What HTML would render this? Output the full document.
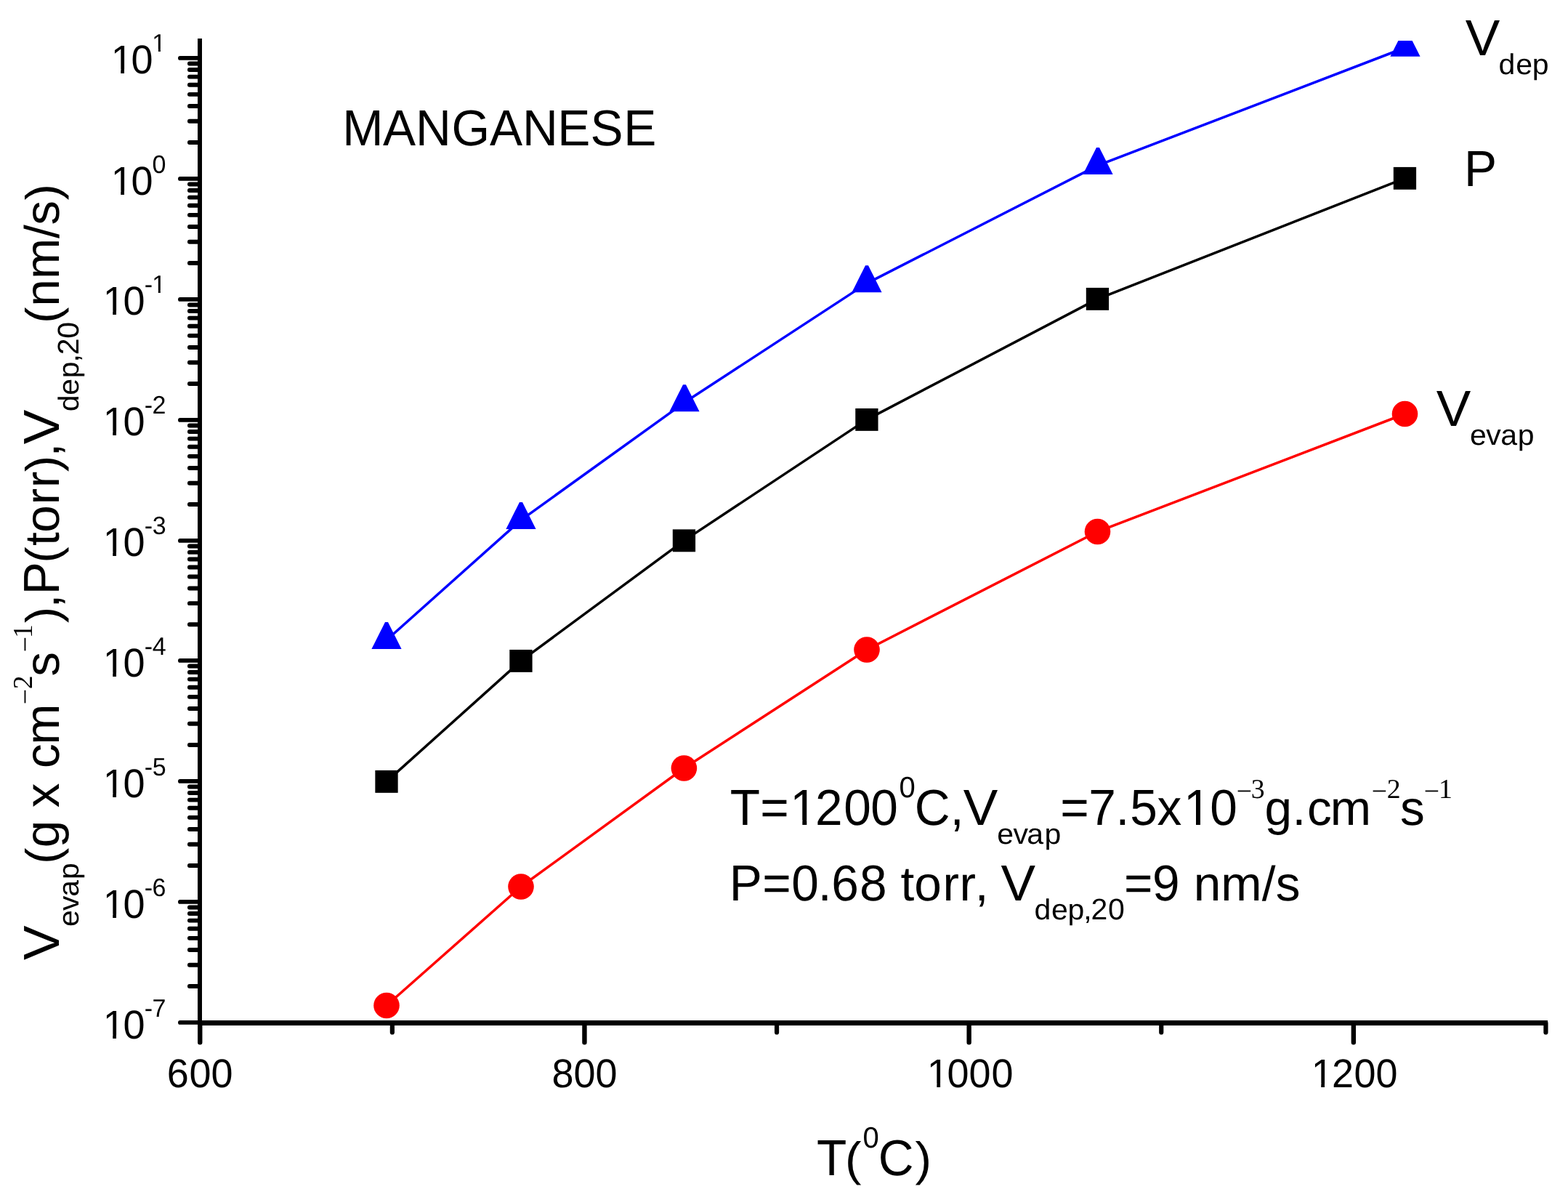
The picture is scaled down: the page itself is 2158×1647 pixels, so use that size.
<!DOCTYPE html>
<html><head><meta charset="utf-8"><title>Manganese: evaporation rate, vapor pressure and deposition rate vs temperature</title>
<style>html,body{margin:0;padding:0;background:#fff;overflow:hidden;}svg{display:block;}text{font-family:"Liberation Sans",Arial,sans-serif;fill:#000;text-rendering:geometricPrecision;}.sf{font-family:"Liberation Serif","Times New Roman",serif;}</style>
</head><body>
<svg xmlns="http://www.w3.org/2000/svg" width="2158" height="1647" viewBox="0 0 2158 1647">
<rect width="2158" height="1647" fill="#fff"/>
<path d="M275.00 53.00V1410.95" stroke="#000" stroke-width="6.0" fill="none"/>
<path d="M272.00 1407.50H2130.00" stroke="#000" stroke-width="6.9" fill="none"/>
<path d="M247.9 79.90H275.00 M247.9 245.90H275.00 M247.9 411.90H275.00 M247.9 577.90H275.00 M247.9 743.90H275.00 M247.9 908.90H275.00 M247.9 1074.90H275.00 M247.9 1240.90H275.00 M247.9 1406.90H275.00" stroke="#000" stroke-width="5.8" stroke-linecap="round" fill="none"/>
<path d="M260.9 195.93H275.00 M260.9 166.70H275.00 M260.9 145.96H275.00 M260.9 129.87H275.00 M260.9 116.73H275.00 M260.9 105.61H275.00 M260.9 95.99H275.00 M260.9 87.50H275.00 M260.9 361.93H275.00 M260.9 332.70H275.00 M260.9 311.96H275.00 M260.9 295.87H275.00 M260.9 282.73H275.00 M260.9 271.61H275.00 M260.9 261.99H275.00 M260.9 253.50H275.00 M260.9 527.93H275.00 M260.9 498.70H275.00 M260.9 477.96H275.00 M260.9 461.87H275.00 M260.9 448.73H275.00 M260.9 437.61H275.00 M260.9 427.99H275.00 M260.9 419.50H275.00 M260.9 693.93H275.00 M260.9 664.70H275.00 M260.9 643.96H275.00 M260.9 627.87H275.00 M260.9 614.73H275.00 M260.9 603.61H275.00 M260.9 593.99H275.00 M260.9 585.50H275.00 M260.9 859.23H275.00 M260.9 830.17H275.00 M260.9 809.56H275.00 M260.9 793.57H275.00 M260.9 780.51H275.00 M260.9 769.46H275.00 M260.9 759.89H275.00 M260.9 751.45H275.00 M260.9 1024.93H275.00 M260.9 995.70H275.00 M260.9 974.96H275.00 M260.9 958.87H275.00 M260.9 945.73H275.00 M260.9 934.61H275.00 M260.9 924.99H275.00 M260.9 916.50H275.00 M260.9 1190.93H275.00 M260.9 1161.70H275.00 M260.9 1140.96H275.00 M260.9 1124.87H275.00 M260.9 1111.73H275.00 M260.9 1100.61H275.00 M260.9 1090.99H275.00 M260.9 1082.50H275.00 M260.9 1356.93H275.00 M260.9 1327.70H275.00 M260.9 1306.96H275.00 M260.9 1290.87H275.00 M260.9 1277.73H275.00 M260.9 1266.61H275.00 M260.9 1256.99H275.00 M260.9 1248.50H275.00" stroke="#000" stroke-width="5.9" stroke-linecap="round" fill="none"/>
<path d="M275.25 1407.50V1434.3 M804.45 1407.50V1434.3 M1333.65 1407.50V1434.3 M1862.85 1407.50V1434.3" stroke="#000" stroke-width="6.4" stroke-linecap="round" fill="none"/>
<path d="M539.85 1407.50V1420.5 M1069.05 1407.50V1420.5 M1598.25 1407.50V1420.5 M2127.45 1407.50V1420.5" stroke="#000" stroke-width="6.2" stroke-linecap="round" fill="none"/>
<text font-size="54.0" transform="matrix(1.0 0 0 1.025 0 0)" x="229.75 260.43 290.48" y="1459.61">600</text>
<text font-size="54.0" transform="matrix(1.0 0 0 1.025 0 0)" x="759.48 789.48 819.48" y="1459.61">800</text>
<g clip-path="url(#c1f0)"><text font-size="54.0" transform="matrix(1.0 0 0 1.025 0 0)" x="1275.75 1303.38 1333.38 1364.38" y="1459.61">1000</text></g>
<g clip-path="url(#c1f1)"><text font-size="54.0" transform="matrix(1.0 0 0 1.025 0 0)" x="1804.65 1832.98 1863.38 1893.48" y="1459.61">1200</text></g>
<g clip-path="url(#c1f2)"><text font-size="54.0" transform="matrix(1.0 0 0 1.025 0 0)" x="152.65 180.48" y="98.24">10</text></g>
<g clip-path="url(#c1f3)"><text font-size="34.0" transform="matrix(1.0 0 0 1.02 0 0)" x="209.35" y="69.80">1</text></g>
<g clip-path="url(#c1f4)"><text font-size="54.0" transform="matrix(1.0 0 0 1.025 0 0)" x="152.65 180.48" y="261.37">10</text></g>
<text font-size="34.0" transform="matrix(1.0 0 0 1.02 0 0)" x="209.55" y="233.73">0</text>
<g clip-path="url(#c1f5)"><text font-size="54.0" transform="matrix(1.0 0 0 1.025 0 0)" x="141.65 169.38" y="422.24">10</text></g>
<g clip-path="url(#c1f6)"><text font-size="34.0" transform="matrix(1.0 0 0 1.02 0 0)" x="198.79 209.25" y="395.39">-1</text></g>
<g clip-path="url(#c1f7)"><text font-size="54.0" transform="matrix(1.0 0 0 1.025 0 0)" x="141.65 169.38" y="584.20">10</text></g>
<text font-size="34.0" transform="matrix(1.0 0 0 1.02 0 0)" x="198.79 209.60" y="558.14">-2</text>
<g clip-path="url(#c1f8)"><text font-size="54.0" transform="matrix(1.0 0 0 1.025 0 0)" x="141.65 169.38" y="746.24">10</text></g>
<text font-size="34.0" transform="matrix(1.0 0 0 1.02 0 0)" x="198.79 209.70" y="720.98">-3</text>
<g clip-path="url(#c1f9)"><text font-size="54.0" transform="matrix(1.0 0 0 1.025 0 0)" x="141.65 169.38" y="908.10">10</text></g>
<text font-size="34.0" transform="matrix(1.0 0 0 1.02 0 0)" x="198.79 209.70" y="883.63">-4</text>
<g clip-path="url(#c1f10)"><text font-size="54.0" transform="matrix(1.0 0 0 1.025 0 0)" x="141.65 169.38" y="1070.05">10</text></g>
<text font-size="34.0" transform="matrix(1.0 0 0 1.02 0 0)" x="198.79 209.63" y="1046.37">-5</text>
<g clip-path="url(#c1f11)"><text font-size="54.0" transform="matrix(1.0 0 0 1.025 0 0)" x="141.65 169.38" y="1232.00">10</text></g>
<text font-size="34.0" transform="matrix(1.0 0 0 1.02 0 0)" x="198.79 209.48" y="1209.12">-6</text>
<g clip-path="url(#c1f12)"><text font-size="54.0" transform="matrix(1.0 0 0 1.025 0 0)" x="141.65 169.38" y="1394.15">10</text></g>
<text font-size="34.0" transform="matrix(1.0 0 0 1.02 0 0)" x="198.79 209.58" y="1372.06">-7</text>
<defs><clipPath id="pc"><rect x="278" y="56" width="1880" height="1348"/></clipPath></defs>
<g clip-path="url(#pc)">
<path d="M532.00 1075.40 L716.95 909.40 L941.45 743.85 L1192.90 577.40 L1510.45 411.40 L1933.45 245.35" stroke="#000" stroke-width="3.5" fill="none" stroke-linejoin="round"/>
<path d="M532.00 1383.50 L717.00 1220.00 L941.40 1057.00 L1193.00 894.00 L1510.50 731.50 L1933.50 569.50" stroke="#ff0000" stroke-width="3.5" fill="none" stroke-linejoin="round"/>
<path d="M532.00 880.70 L717.00 715.60 L942.00 553.80 L1193.00 389.90 L1511.00 227.60 L1934.00 65.50" stroke="#0000ff" stroke-width="3.5" fill="none" stroke-linejoin="round"/>
<rect x="516.35" y="1059.95" width="31.3" height="30.9" fill="#000"/>
<rect x="701.30" y="893.95" width="31.3" height="30.9" fill="#000"/>
<rect x="925.80" y="728.40" width="31.3" height="30.9" fill="#000"/>
<rect x="1177.25" y="561.95" width="31.3" height="30.9" fill="#000"/>
<rect x="1494.80" y="395.95" width="31.3" height="30.9" fill="#000"/>
<rect x="1917.80" y="229.90" width="31.3" height="30.9" fill="#000"/>
<circle cx="532" cy="1383.5" r="17.8" fill="#ff0000"/>
<circle cx="717" cy="1220" r="17.8" fill="#ff0000"/>
<circle cx="941.4" cy="1057" r="17.8" fill="#ff0000"/>
<circle cx="1193" cy="894" r="17.8" fill="#ff0000"/>
<circle cx="1510.5" cy="731.5" r="17.8" fill="#ff0000"/>
<circle cx="1933.5" cy="569.5" r="17.8" fill="#ff0000"/>
<path d="M530.00 856.03H534.00L552.60 893.03H511.40Z" fill="#0000ff"/>
<path d="M715.00 690.93H719.00L737.60 727.93H696.40Z" fill="#0000ff"/>
<path d="M940.00 529.13H944.00L962.60 566.13H921.40Z" fill="#0000ff"/>
<path d="M1191.00 365.23H1195.00L1213.60 402.23H1172.40Z" fill="#0000ff"/>
<path d="M1509.00 202.93H1513.00L1531.60 239.93H1490.40Z" fill="#0000ff"/>
<path d="M1932.00 40.83H1936.00L1954.60 77.83H1913.40Z" fill="#0000ff"/>
</g>
<text font-size="67.6" transform="matrix(1.0 0 0 1.03 0 0)" x="471.29 527.01 571.97 621.48 673.96 719.02 767.34 812.47 858.14" y="193.88">MANGANESE</text>
<text font-size="67.6" transform="matrix(1.055 0 0 1.03 0 0)" x="1911.58" y="73.69">V</text>
<text font-size="41.0" transform="matrix(1.0 0 0 0.965 0 0)" x="2062.56 2086.14 2108.64" y="105.60">dep</text>
<text font-size="67.6" transform="matrix(1.0 0 0 1.03 0 0)" x="2014.92" y="248.45">P</text>
<text font-size="67.6" transform="matrix(1.055 0 0 1.03 0 0)" x="1873.71" y="568.93">V</text>
<text font-size="41.0" transform="matrix(1.0 0 0 0.965 0 0)" x="2023.09 2045.15 2065.28 2088.64" y="633.99">evap</text>
<g clip-path="url(#c1f13)"><text font-size="67.6" transform="matrix(1.0 0 0 1.03 0 0)" x="1004.87 1046.23 1087.33 1122.05 1161.25 1198.20" y="1101.94">T=1200</text></g>
<text font-size="40.0" transform="matrix(1.0 0 0 1.014 0 0)" x="1237.48" y="1082.15">0</text>
<text font-size="67.6" transform="matrix(1.0 0 0 1.03 0 0)" x="1258.66 1307.81" y="1101.94">C,</text>
<text font-size="67.6" transform="matrix(1.055 0 0 1.03 0 0)" x="1256.60" y="1101.94">V</text>
<text font-size="41.0" transform="matrix(1.0 0 0 0.965 0 0)" x="1372.14 1394.55 1413.18 1437.54" y="1202.90">evap</text>
<g clip-path="url(#c1f14)"><text font-size="67.6" transform="matrix(1.0 0 0 1.03 0 0)" x="1459.23 1498.17 1535.61 1555.22 1592.58 1629.03 1665.15" y="1101.94">=7.5x10</text></g>
<text class="sf" font-size="37.8" transform="matrix(1.0 0 0 1.0 0 0)" x="1701.72" y="1101.30">−</text>
<text class="sf" font-size="37.8" transform="matrix(1.0 0 0 1.0 0 0)" x="1721.83" y="1098.00">3</text>
<text font-size="67.6" transform="matrix(1.0 0 0 0.99 0 0)" x="1740.46 1778.51 1799.11 1830.83" y="1146.46">g.cm</text>
<text class="sf" font-size="37.8" transform="matrix(1.0 0 0 1.0 0 0)" x="1887.77" y="1101.30">−</text>
<text class="sf" font-size="37.8" transform="matrix(1.0 0 0 1.0 0 0)" x="1908.71" y="1098.00">2</text>
<text font-size="67.6" transform="matrix(1.0 0 0 0.99 0 0)" x="1926.93" y="1146.46">s</text>
<text class="sf" font-size="37.8" transform="matrix(1.0 0 0 1.0 0 0)" x="1959.77" y="1101.30">−</text>
<text class="sf" font-size="37.8" transform="matrix(1.0 0 0 1.0 0 0)" x="1979.97" y="1098.00">1</text>
<text font-size="67.6" transform="matrix(1.0 0 0 1.03 0 0)" x="1003.82 1049.33 1089.15 1125.71 1144.32 1183.10" y="1202.82">P=0.68</text>
<text font-size="67.6" transform="matrix(1.0 0 0 0.99 0 0)" x="1239.60 1258.35 1297.51 1320.41 1341.86" y="1251.41">torr,</text>
<text font-size="67.6" transform="matrix(1.055 0 0 1.03 0 0)" x="1305.80" y="1202.82">V</text>
<text font-size="41.0" transform="matrix(1.0 0 0 0.965 0 0)" x="1423.51 1447.09 1469.59 1491.30" y="1310.78">dep,</text>
<text font-size="41.0" transform="matrix(1.0 0 0 1.0 0 0)" x="1501.55 1525.05" y="1264.90">20</text>
<text font-size="67.6" transform="matrix(1.0 0 0 1.03 0 0)" x="1547.08 1586.12" y="1202.82">=9</text>
<text font-size="67.6" transform="matrix(1.0 0 0 0.99 0 0)" x="1642.80 1680.18 1736.81 1755.78" y="1251.41">nm/s</text>
<text font-size="67.6" transform="matrix(1.0 0 0 1.03 0 0)" x="1123.92" y="1569.71">T</text>
<text font-size="67.6" transform="matrix(1.0 0 0 0.96 0 0)" x="1162.90" y="1684.17">(</text>
<text font-size="40.0" transform="matrix(1.0 0 0 1.014 0 0)" x="1187.38" y="1557.59">0</text>
<text font-size="67.6" transform="matrix(1.0 0 0 1.03 0 0)" x="1208.66" y="1569.71">C</text>
<text font-size="67.6" transform="matrix(1.0 0 0 0.96 0 0)" x="1259.54" y="1684.17">)</text>
<text font-size="67.6" transform="translate(80.8 0) rotate(-90) scale(1.055 1.03)" x="-1252.17" y="0.00">V</text>
<text font-size="41.0" transform="translate(80.8 0) rotate(-90) scale(1.0 0.965)" x="-1274.96 -1253.05 -1233.77 -1209.96" y="28.19">evap</text>
<text font-size="67.6" transform="translate(80.8 0) rotate(-90) scale(1.0 0.96)" x="-1188.90" y="0.00">(</text>
<text font-size="67.6" transform="translate(80.8 0) rotate(-90) scale(1.0 0.99)" x="-1166.19 -1128.59 -1111.32 -1077.52 -1056.99 -1024.77" y="0.00">g x cm</text>
<text class="sf" font-size="37.8" transform="translate(80.8 0) rotate(-90) scale(1.0 1.0)" x="-969.23" y="-33.40">−</text>
<text class="sf" font-size="37.8" transform="translate(80.8 0) rotate(-90) scale(1.0 1.0)" x="-948.14" y="-36.70">2</text>
<text font-size="67.6" transform="translate(80.8 0) rotate(-90) scale(1.0 0.99)" x="-930.87" y="0.00">s</text>
<text class="sf" font-size="37.8" transform="translate(80.8 0) rotate(-90) scale(1.0 1.0)" x="-897.18" y="-33.40">−</text>
<text class="sf" font-size="37.8" transform="translate(80.8 0) rotate(-90) scale(1.0 1.0)" x="-877.93" y="-36.70">1</text>
<text font-size="67.6" transform="translate(80.8 0) rotate(-90) scale(1.0 0.96)" x="-857.31" y="0.00">)</text>
<text font-size="67.6" transform="translate(80.8 0) rotate(-90) scale(1.0 0.99)" x="-836.54" y="0.00">,</text>
<text font-size="67.6" transform="translate(80.8 0) rotate(-90) scale(1.0 1.03)" x="-818.28" y="0.00">P</text>
<text font-size="67.6" transform="translate(80.8 0) rotate(-90) scale(1.0 0.96)" x="-774.80" y="0.00">(</text>
<text font-size="67.6" transform="translate(80.8 0) rotate(-90) scale(1.0 0.99)" x="-751.10 -732.75 -694.44 -671.34" y="0.00">torr</text>
<text font-size="67.6" transform="translate(80.8 0) rotate(-90) scale(1.0 0.96)" x="-649.26" y="0.00">)</text>
<text font-size="67.6" transform="translate(80.8 0) rotate(-90) scale(1.0 0.99)" x="-628.54" y="0.00">,</text>
<text font-size="67.6" transform="translate(80.8 0) rotate(-90) scale(1.055 1.03)" x="-579.42" y="0.00">V</text>
<text font-size="41.0" transform="translate(80.8 0) rotate(-90) scale(1.0 0.965)" x="-566.34 -543.76 -520.21 -498.60" y="28.19">dep,</text>
<text font-size="41.0" transform="translate(80.8 0) rotate(-90) scale(1.0 1.0)" x="-488.30 -465.85" y="27.20">20</text>
<text font-size="67.6" transform="translate(80.8 0) rotate(-90) scale(1.0 0.96)" x="-444.90" y="0.00">(</text>
<text font-size="67.6" transform="translate(80.8 0) rotate(-90) scale(1.0 0.99)" x="-421.65 -384.02 -328.04 -309.77" y="0.00">nm/s</text>
<text font-size="67.6" transform="translate(80.8 0) rotate(-90) scale(1.0 0.96)" x="-275.56" y="0.00">)</text>
<defs><clipPath id="c1f0" clipPathUnits="userSpaceOnUse"><path d="M1075.7 1388.1H1664.4V1550.1H1075.7ZM1278.70 1490.76H1289.33V1498.10H1278.70ZM1294.10 1490.76H1304.30V1498.10H1294.10Z" clip-rule="evenodd"/></clipPath><clipPath id="c1f1" clipPathUnits="userSpaceOnUse"><path d="M1604.6 1388.1H2193.5V1550.1H1604.6ZM1807.60 1490.76H1818.23V1498.10H1807.60ZM1823.00 1490.76H1833.20V1498.10H1823.00Z" clip-rule="evenodd"/></clipPath><clipPath id="c1f2" clipPathUnits="userSpaceOnUse"><path d="M-47.4 -7.3H480.5V154.7H-47.4ZM155.60 95.36H166.23V102.70H155.60ZM171.00 95.36H181.20V102.70H171.00Z" clip-rule="evenodd"/></clipPath><clipPath id="c1f3" clipPathUnits="userSpaceOnUse"><path d="M9.3 3.2H509.3V105.2H9.3ZM210.84 67.41H217.90V73.20H210.84ZM220.90 67.41H227.69V73.20H220.90Z" clip-rule="evenodd"/></clipPath><clipPath id="c1f4" clipPathUnits="userSpaceOnUse"><path d="M-47.4 159.9H480.5V321.9H-47.4ZM155.60 262.56H166.23V269.90H155.60ZM171.00 262.56H181.20V269.90H171.00Z" clip-rule="evenodd"/></clipPath><clipPath id="c1f5" clipPathUnits="userSpaceOnUse"><path d="M-58.4 324.8H469.4V486.8H-58.4ZM144.60 427.46H155.23V434.80H144.60ZM160.00 427.46H170.20V434.80H160.00Z" clip-rule="evenodd"/></clipPath><clipPath id="c1f6" clipPathUnits="userSpaceOnUse"><path d="M-1.2 335.3H509.2V437.3H-1.2ZM210.74 399.51H217.80V405.30H210.74ZM220.80 399.51H227.59V405.30H220.80Z" clip-rule="evenodd"/></clipPath><clipPath id="c1f7" clipPathUnits="userSpaceOnUse"><path d="M-58.4 490.8H469.4V652.8H-58.4ZM144.60 593.46H155.23V600.80H144.60ZM160.00 593.46H170.20V600.80H160.00Z" clip-rule="evenodd"/></clipPath><clipPath id="c1f8" clipPathUnits="userSpaceOnUse"><path d="M-58.4 656.9H469.4V818.9H-58.4ZM144.60 759.56H155.23V766.90H144.60ZM160.00 759.56H170.20V766.90H160.00Z" clip-rule="evenodd"/></clipPath><clipPath id="c1f9" clipPathUnits="userSpaceOnUse"><path d="M-58.4 822.8H469.4V984.8H-58.4ZM144.60 925.46H155.23V932.80H144.60ZM160.00 925.46H170.20V932.80H160.00Z" clip-rule="evenodd"/></clipPath><clipPath id="c1f10" clipPathUnits="userSpaceOnUse"><path d="M-58.4 988.8H469.4V1150.8H-58.4ZM144.60 1091.46H155.23V1098.80H144.60ZM160.00 1091.46H170.20V1098.80H160.00Z" clip-rule="evenodd"/></clipPath><clipPath id="c1f11" clipPathUnits="userSpaceOnUse"><path d="M-58.4 1154.8H469.4V1316.8H-58.4ZM144.60 1257.46H155.23V1264.80H144.60ZM160.00 1257.46H170.20V1264.80H160.00Z" clip-rule="evenodd"/></clipPath><clipPath id="c1f12" clipPathUnits="userSpaceOnUse"><path d="M-58.4 1321.0H469.4V1483.0H-58.4ZM144.60 1423.66H155.23V1431.00H144.60ZM160.00 1423.66H170.20V1431.00H160.00Z" clip-rule="evenodd"/></clipPath><clipPath id="c1f13" clipPathUnits="userSpaceOnUse"><path d="M804.9 999.8H1498.2V1202.6H804.9ZM1091.28 1128.60H1104.33V1137.00H1091.28ZM1110.30 1128.60H1122.82V1137.00H1110.30Z" clip-rule="evenodd"/></clipPath><clipPath id="c1f14" clipPathUnits="userSpaceOnUse"><path d="M1259.2 999.8H1965.2V1202.6H1259.2ZM1632.98 1128.60H1646.03V1137.00H1632.98ZM1652.00 1128.60H1664.52V1137.00H1652.00Z" clip-rule="evenodd"/></clipPath></defs>
</svg></body></html>
